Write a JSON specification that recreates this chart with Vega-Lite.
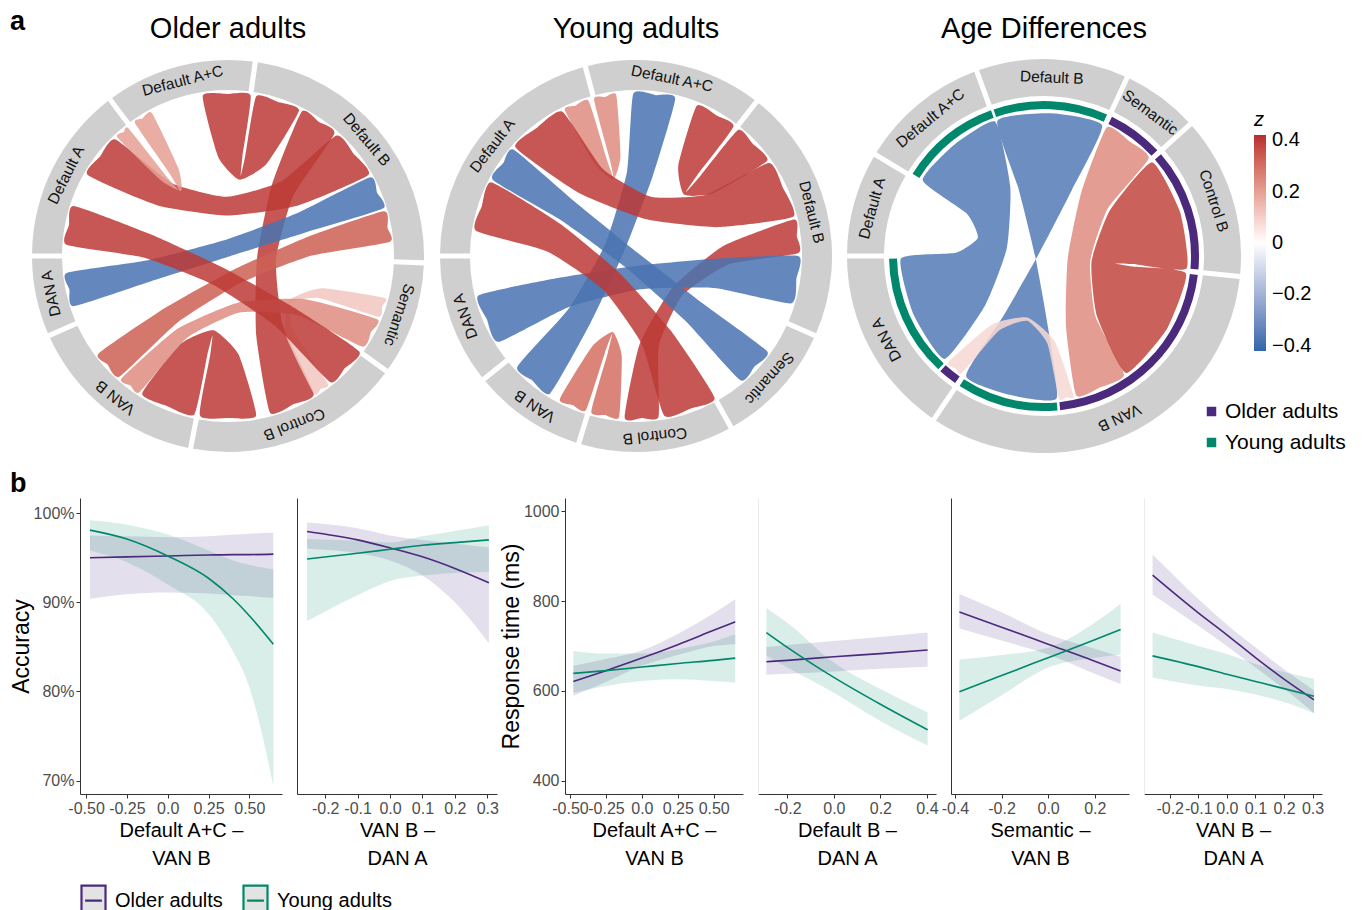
{
"$schema": "https://vega.github.io/schema/vega-lite/v6.json",
"padding": {"left": 10, "top": 8, "right": 0, "bottom": 0},
"background": "white",
"title": {"text": "a", "anchor": "start", "frame": "bounds", "offset": -21, "fontSize": 27, "fontWeight": "bold", "color": "#000000"},
"config": {
 "font": "Liberation Sans",
 "view": {"stroke": null},
 "axis": {"grid": false, "domainColor": "#333333", "tickColor": "#333333", "labelColor": "#4D4D4D", "labelFontSize": 16, "titleFontWeight": "normal", "titleColor": "#000000", "tickSize": 4, "labelPadding": 2, "labelOverlap": false, "labelFlush": false},
 "axisX": {"titleFontSize": 20, "titleLineHeight": 28, "titlePadding": 4},
 "axisY": {"titleFontSize": 23, "titlePadding": 0},
 "title": {"fontWeight": "normal", "color": "#000000"}
},
"spacing": 14,
"resolve": {"scale": {"color": "independent", "fill": "independent", "stroke": "independent"}, "legend": {"color": "independent", "fill": "independent", "stroke": "independent"}},
"vconcat": [
{
 "spacing": 8,
 "resolve": {"scale": {"color": "independent", "fill": "independent"}, "legend": {"color": "independent", "fill": "independent"}},
 "hconcat": [
 {
  "width": 348, "height": 400,
  "title": {"text": "Older adults", "fontSize": 29, "offset": 12, "dx": -26},
  "layer": [
   {"data": {"values": [{"n":"Default A+C","s":323,"e":368,"m":345.5},{"n":"Default B","s":8,"e":92,"m":50},{"n":"Semantic","s":92,"e":126,"m":109},{"n":"Control B","s":126,"e":191,"m":158.5},{"n":"VAN B","s":191,"e":246,"m":218.5},{"n":"DAN A","s":246,"e":270,"m":258},{"n":"Default A","s":270,"e":323,"m":296.5}]},
    "mark": {"type": "arc", "radius": 196, "radius2": 166, "padAngle": 0.02, "color": "#CFCFCF"},
    "encoding": {"x": {"datum": 0, "type": "quantitative", "axis": null}, "y": {"datum": 0, "type": "quantitative", "axis": null},
     "theta": {"field": "s", "type": "quantitative", "scale": {"domain": [0, 360], "range": [0, 6.283185]}, "stack": null}, "theta2": {"field": "e"}}},
   {"data": {"values": [{"n":"Default A+C","s":323,"e":368,"m":345.5},{"n":"Default B","s":8,"e":92,"m":50},{"n":"Semantic","s":92,"e":126,"m":109},{"n":"Control B","s":126,"e":191,"m":158.5},{"n":"VAN B","s":191,"e":246,"m":218.5},{"n":"DAN A","s":246,"e":270,"m":258},{"n":"Default A","s":270,"e":323,"m":296.5}]},
    "mark": {"type": "text", "radius": 181, "fontSize": 15.5, "color": "#111111"},
    "encoding": {"x": {"datum": 0, "type": "quantitative", "axis": null}, "y": {"datum": 0, "type": "quantitative", "axis": null},
     "theta": {"field": "m", "type": "quantitative", "scale": {"domain": [0, 360], "range": [0, 6.283185]}, "stack": null}, "angle": {"field": "m", "type": "quantitative", "scale": null}, "text": {"field": "n"}}},
   {"data": {"values": [
{"c":"O1","o":0,"x":-25.3,"y":160.0,"z":0.4},{"c":"O1","o":1,"x":0,"y":162,"z":0.4},{"c":"O1","o":2,"x":22.6,"y":160.4,"z":0.4},{"c":"O1","o":3,"x":14.5,"y":100.2,"z":0.4},{"c":"O1","o":4,"x":12.7,"y":80.0,"z":0.4},{"c":"O1","o":5,"x":17.2,"y":99.7,"z":0.4},{"c":"O1","o":6,"x":28.1,"y":159.5,"z":0.4},{"c":"O1","o":7,"x":50.1,"y":154.1,"z":0.4},{"c":"O1","o":8,"x":71.0,"y":145.6,"z":0.4},{"c":"O1","o":9,"x":38.4,"y":91.9,"z":0.4},{"c":"O1","o":10,"x":11.4,"y":76.4,"z":0.4},{"c":"O1","o":11,"x":-9.8,"y":99.1,"z":0.4},
{"c":"O2","o":0,"x":73.6,"y":144.3,"z":0.4},{"c":"O2","o":1,"x":90.6,"y":134.3,"z":0.4},{"c":"O2","o":2,"x":106.3,"y":122.3,"z":0.4},{"c":"O2","o":3,"x":65.2,"y":60.2,"z":0.4},{"c":"O2","o":4,"x":48.0,"y":-3.8,"z":0.4},{"c":"O2","o":5,"x":54.9,"y":-69.6,"z":0.4},{"c":"O2","o":6,"x":85.8,"y":-137.4,"z":0.4},{"c":"O2","o":7,"x":65.9,"y":-148.0,"z":0.4},{"c":"O2","o":8,"x":41.9,"y":-156.5,"z":0.4},{"c":"O2","o":9,"x":28.2,"y":-79.0,"z":0.4},{"c":"O2","o":10,"x":28.9,"y":-3.1,"z":0.4},{"c":"O2","o":11,"x":44.0,"y":71.4,"z":0.4},
{"c":"O3","o":0,"x":108.4,"y":120.4,"z":0.4},{"c":"O3","o":1,"x":125.9,"y":101.9,"z":0.4},{"c":"O3","o":2,"x":140.3,"y":81.0,"z":0.4},{"c":"O3","o":3,"x":70.2,"y":50.6,"z":0.4},{"c":"O3","o":4,"x":0,"y":40.5,"z":0.4},{"c":"O3","o":5,"x":-70.2,"y":50.6,"z":0.4},{"c":"O3","o":6,"x":-140.3,"y":81.0,"z":0.4},{"c":"O3","o":7,"x":-127.7,"y":99.7,"z":0.4},{"c":"O3","o":8,"x":-112.5,"y":116.5,"z":0.4},{"c":"O3","o":9,"x":-56.5,"y":73.1,"z":0.4},{"c":"O3","o":10,"x":-1.0,"y":59.2,"z":0.4},{"c":"O3","o":11,"x":54.0,"y":75.0,"z":0.4},
{"c":"O4","o":0,"x":141.7,"y":78.5,"z":-0.38},{"c":"O4","o":1,"x":149.1,"y":63.3,"z":-0.38},{"c":"O4","o":2,"x":154.9,"y":47.4,"z":-0.38},{"c":"O4","o":3,"x":77.5,"y":23.5,"z":-0.38},{"c":"O4","o":4,"x":0.2,"y":-0.7,"z":-0.38},{"c":"O4","o":5,"x":-77.0,"y":-25.2,"z":-0.38},{"c":"O4","o":6,"x":-154.1,"y":-50.1,"z":-0.38},{"c":"O4","o":7,"x":-158.5,"y":-33.7,"z":-0.38},{"c":"O4","o":8,"x":-161.1,"y":-16.9,"z":-0.38},{"c":"O4","o":9,"x":-81.8,"y":-4.6,"z":-0.38},{"c":"O4","o":10,"x":-4.9,"y":15.4,"z":-0.38},{"c":"O4","o":11,"x":69.6,"y":43.1,"z":-0.38},
{"c":"O5","o":0,"x":155.7,"y":44.7,"z":0.33},{"c":"O5","o":1,"x":159.5,"y":28.1,"z":0.33},{"c":"O5","o":2,"x":161.4,"y":14.1,"z":0.33},{"c":"O5","o":3,"x":84.0,"y":0.4,"z":0.33},{"c":"O5","o":4,"x":13.3,"y":-26.6,"z":0.33},{"c":"O5","o":5,"x":-50.9,"y":-66.9,"z":0.33},{"c":"O5","o":6,"x":-108.4,"y":-120.4,"z":0.33},{"c":"O5","o":7,"x":-120.4,"y":-108.4,"z":0.33},{"c":"O5","o":8,"x":-129.4,"y":-97.5,"z":0.33},{"c":"O5","o":9,"x":-63.1,"y":-52.1,"z":0.33},{"c":"O5","o":10,"x":6.6,"y":-13.2,"z":0.33},{"c":"O5","o":11,"x":79.5,"y":19.1,"z":0.33},
{"c":"O6","o":0,"x":156.5,"y":-41.9,"z":0.12},{"c":"O6","o":1,"x":154.1,"y":-50.1,"z":0.12},{"c":"O6","o":2,"x":150.2,"y":-60.7,"z":0.12},{"c":"O6","o":3,"x":90.7,"y":-42.1,"z":0.12},{"c":"O6","o":4,"x":62.5,"y":-47.1,"z":0.12},{"c":"O6","o":5,"x":65.5,"y":-75.6,"z":0.12},{"c":"O6","o":6,"x":99.7,"y":-127.7,"z":0.12},{"c":"O6","o":7,"x":92.9,"y":-132.7,"z":0.12},{"c":"O6","o":8,"x":85.8,"y":-137.4,"z":0.12},{"c":"O6","o":9,"x":58.0,"y":-79.9,"z":0.12},{"c":"O6","o":10,"x":60.6,"y":-44.8,"z":0.12},{"c":"O6","o":11,"x":93.4,"y":-32.2,"z":0.12},
{"c":"O7","o":0,"x":149.1,"y":-63.3,"z":0.24},{"c":"O7","o":1,"x":143.0,"y":-76.1,"z":0.24},{"c":"O7","o":2,"x":134.3,"y":-90.6,"z":0.24},{"c":"O7","o":3,"x":70.0,"y":-59.5,"z":0.24},{"c":"O7","o":4,"x":11.5,"y":-56.6,"z":0.24},{"c":"O7","o":5,"x":-41.2,"y":-82.1,"z":0.24},{"c":"O7","o":6,"x":-88.2,"y":-135.9,"z":0.24},{"c":"O7","o":7,"x":-97.5,"y":-129.4,"z":0.24},{"c":"O7","o":8,"x":-106.3,"y":-122.3,"z":0.24},{"c":"O7","o":9,"x":-50.5,"y":-72.8,"z":0.24},{"c":"O7","o":10,"x":10.7,"y":-46.4,"z":0.24},{"c":"O7","o":11,"x":77.2,"y":-43.3,"z":0.24},
{"c":"O8","o":0,"x":131.1,"y":-95.2,"z":0.4},{"c":"O8","o":1,"x":116.5,"y":-112.5,"z":0.4},{"c":"O8","o":2,"x":102.0,"y":-125.9,"z":0.4},{"c":"O8","o":3,"x":47.3,"y":-70.1,"z":0.4},{"c":"O8","o":4,"x":-14.9,"y":-28.7,"z":0.4},{"c":"O8","o":5,"x":-84.5,"y":-1.5,"z":0.4},{"c":"O8","o":6,"x":-161.6,"y":11.3,"z":0.4},{"c":"O8","o":7,"x":-159.0,"y":30.9,"z":0.4},{"c":"O8","o":8,"x":-154.1,"y":50.1,"z":0.4},{"c":"O8","o":9,"x":-78.5,"y":22.2,"z":0.4},{"c":"O8","o":10,"x":-5.8,"y":-11.3,"z":0.4},{"c":"O8","o":11,"x":64.1,"y":-50.4,"z":0.4},
{"c":"O9","o":0,"x":28.1,"y":-159.5,"z":0.4},{"c":"O9","o":1,"x":0,"y":-162,"z":0.4},{"c":"O9","o":2,"x":-28.1,"y":-159.5,"z":0.4},{"c":"O9","o":3,"x":-17.9,"y":-99.6,"z":0.4},{"c":"O9","o":4,"x":-15.5,"y":-79.5,"z":0.4},{"c":"O9","o":5,"x":-20.7,"y":-99.1,"z":0.4},{"c":"O9","o":6,"x":-33.7,"y":-158.5,"z":0.4},{"c":"O9","o":7,"x":-60.7,"y":-150.2,"z":0.4},{"c":"O9","o":8,"x":-85.8,"y":-137.4,"z":0.4},{"c":"O9","o":9,"x":-46.5,"y":-87.3,"z":0.4},{"c":"O9","o":10,"x":-14.4,"y":-74.2,"z":0.4},{"c":"O9","o":11,"x":10.5,"y":-98.3,"z":0.4},
{"c":"O10","o":0,"x":-110.5,"y":118.5,"z":0.2},{"c":"O10","o":1,"x":-104.1,"y":124.1,"z":0.2},{"c":"O10","o":2,"x":-99.7,"y":127.7,"z":0.2},{"c":"O10","o":3,"x":-61.9,"y":80.1,"z":0.2},{"c":"O10","o":4,"x":-48.2,"y":65.1,"z":0.2},{"c":"O10","o":5,"x":-58.5,"y":82.6,"z":0.2},{"c":"O10","o":6,"x":-92.9,"y":132.7,"z":0.2},{"c":"O10","o":7,"x":-85.8,"y":137.4,"z":0.2},{"c":"O10","o":8,"x":-76.1,"y":143.0,"z":0.2},{"c":"O10","o":9,"x":-49.7,"y":87.9,"z":0.2},{"c":"O10","o":10,"x":-46.7,"y":65.4,"z":0.2},{"c":"O10","o":11,"x":-66.9,"y":75.6,"z":0.2}
    ]},
    "mark": {"type": "line", "interpolate": "cardinal-closed", "tension": 0.5, "strokeWidth": 0, "fillOpacity": 0.85},
    "encoding": {
     "x": {"field": "x", "type": "quantitative", "scale": {"domain": [-148, 200], "nice": false, "zero": false}, "axis": null},
     "y": {"field": "y", "type": "quantitative", "scale": {"domain": [-200, 200], "nice": false, "zero": false}, "axis": null},
     "detail": {"field": "c"},
     "order": {"field": "o", "type": "quantitative"},
     "fill": {"field": "z", "type": "quantitative", "scale": {"domain": [-0.42, 0, 0.42], "range": ["#3066AA", "#FFFFFF", "#B72D2D"], "interpolate": "lab"}, "legend": null}
    }}
  ]
 },
 {
  "width": 400, "height": 400,
  "title": {"text": "Young adults", "fontSize": 29, "offset": 12},
  "layer": [
   {"data": {"values": [{"n":"Default A+C","s":345,"e":398,"m":11.5},{"n":"Default B","s":38,"e":114,"m":76},{"n":"Semantic","s":114,"e":151,"m":132.5},{"n":"Control B","s":151,"e":197,"m":174},{"n":"VAN B","s":197,"e":231,"m":214},{"n":"DAN A","s":231,"e":270,"m":250.5},{"n":"Default A","s":270,"e":345,"m":307.5}]},
    "mark": {"type": "arc", "radius": 196, "radius2": 166, "padAngle": 0.02, "color": "#CFCFCF"},
    "encoding": {"theta": {"field": "s", "type": "quantitative", "scale": {"domain": [0, 360], "range": [0, 6.283185]}, "stack": null}, "theta2": {"field": "e"}}},
   {"data": {"values": [{"n":"Default A+C","s":345,"e":398,"m":11.5},{"n":"Default B","s":38,"e":114,"m":76},{"n":"Semantic","s":114,"e":151,"m":132.5},{"n":"Control B","s":151,"e":197,"m":174},{"n":"VAN B","s":197,"e":231,"m":214},{"n":"DAN A","s":231,"e":270,"m":250.5},{"n":"Default A","s":270,"e":345,"m":307.5}]},
    "mark": {"type": "text", "radius": 181, "fontSize": 15.5, "color": "#111111"},
    "encoding": {"theta": {"field": "m", "type": "quantitative", "scale": {"domain": [0, 360], "range": [0, 6.283185]}, "stack": null}, "angle": {"field": "m", "type": "quantitative", "scale": null}, "text": {"field": "n"}}},
   {"data": {"values": [
{"c":"Y1","o":0,"x":-71.0,"y":145.6,"z":0.24},{"c":"Y1","o":1,"x":-60.7,"y":150.2,"z":0.24},{"c":"Y1","o":2,"x":-47.4,"y":154.9,"z":0.24},{"c":"Y1","o":3,"x":-29.3,"y":96.9,"z":0.24},{"c":"Y1","o":4,"x":-22.3,"y":77.9,"z":0.24},{"c":"Y1","o":5,"x":-26.5,"y":97.7,"z":0.24},{"c":"Y1","o":6,"x":-41.9,"y":156.5,"z":0.24},{"c":"Y1","o":7,"x":-30.9,"y":159.0,"z":0.24},{"c":"Y1","o":8,"x":-19.7,"y":160.8,"z":0.24},{"c":"Y1","o":9,"x":-15.5,"y":99.6,"z":0.24},{"c":"Y1","o":10,"x":-22.7,"y":76.6,"z":0.24},{"c":"Y1","o":11,"x":-41.2,"y":92.0,"z":0.24},
{"c":"Y2","o":0,"x":-2.8,"y":162.0,"z":-0.38},{"c":"Y2","o":1,"x":19.7,"y":160.8,"z":-0.38},{"c":"Y2","o":2,"x":39.2,"y":157.2,"z":-0.38},{"c":"Y2","o":3,"x":16.7,"y":79.8,"z":-0.38},{"c":"Y2","o":4,"x":-11.7,"y":5.0,"z":-0.38},{"c":"Y2","o":5,"x":-45.8,"y":-67.5,"z":-0.38},{"c":"Y2","o":6,"x":-85.8,"y":-137.4,"z":-0.38},{"c":"Y2","o":7,"x":-104.1,"y":-124.1,"z":-0.38},{"c":"Y2","o":8,"x":-118.5,"y":-110.5,"z":-0.38},{"c":"Y2","o":9,"x":-66.8,"y":-52.0,"z":-0.38},{"c":"Y2","o":10,"x":-30.3,"y":12.9,"z":-0.38},{"c":"Y2","o":11,"x":-9.0,"y":84.2,"z":-0.38},
{"c":"Y3","o":0,"x":60.7,"y":150.2,"z":0.4},{"c":"Y3","o":1,"x":81.0,"y":140.3,"z":0.4},{"c":"Y3","o":2,"x":97.5,"y":129.4,"z":0.4},{"c":"Y3","o":3,"x":61.2,"y":80.7,"z":0.4},{"c":"Y3","o":4,"x":49.9,"y":63.8,"z":0.4},{"c":"Y3","o":5,"x":63.5,"y":78.9,"z":0.4},{"c":"Y3","o":6,"x":102.0,"y":125.9,"z":0.4},{"c":"Y3","o":7,"x":116.5,"y":112.5,"z":0.4},{"c":"Y3","o":8,"x":131.1,"y":95.2,"z":0.4},{"c":"Y3","o":9,"x":77.5,"y":62.9,"z":0.4},{"c":"Y3","o":10,"x":48.0,"y":61.4,"z":0.4},{"c":"Y3","o":11,"x":42.3,"y":90.4,"z":0.4},
{"c":"Y4","o":0,"x":132.7,"y":92.9,"z":0.4},{"c":"Y4","o":1,"x":146.8,"y":68.5,"z":0.4},{"c":"Y4","o":2,"x":157.2,"y":39.2,"z":0.4},{"c":"Y4","o":3,"x":80.9,"y":28.8,"z":0.4},{"c":"Y4","o":4,"x":9.2,"y":36.9,"z":0.4},{"c":"Y4","o":5,"x":-57.9,"y":63.4,"z":0.4},{"c":"Y4","o":6,"x":-120.4,"y":108.4,"z":0.4},{"c":"Y4","o":7,"x":-99.7,"y":127.7,"z":0.4},{"c":"Y4","o":8,"x":-73.6,"y":144.3,"z":0.4},{"c":"Y4","o":9,"x":-33.1,"y":87.0,"z":0.4},{"c":"Y4","o":10,"x":14.8,"y":59.3,"z":0.4},{"c":"Y4","o":11,"x":70.0,"y":61.3,"z":0.4},
{"c":"Y5","o":0,"x":157.9,"y":36.5,"z":0.4},{"c":"Y5","o":1,"x":160.8,"y":19.7,"z":0.4},{"c":"Y5","o":2,"x":162.0,"y":2.8,"z":0.4},{"c":"Y5","o":3,"x":92.5,"y":-8.4,"z":0.4},{"c":"Y5","o":4,"x":46.2,"y":-39.4,"z":0.4},{"c":"Y5","o":5,"x":22.8,"y":-90.1,"z":0.4},{"c":"Y5","o":6,"x":22.6,"y":-160.4,"z":0.4},{"c":"Y5","o":7,"x":5.7,"y":-161.9,"z":0.4},{"c":"Y5","o":8,"x":-11.3,"y":-161.6,"z":0.4},{"c":"Y5","o":9,"x":3.5,"y":-88.6,"z":0.4},{"c":"Y5","o":10,"x":36.7,"y":-31.3,"z":0.4},{"c":"Y5","o":11,"x":88.1,"y":10.4,"z":0.4},
{"c":"Y6","o":0,"x":162.0,"y":0,"z":-0.38},{"c":"Y6","o":1,"x":160.4,"y":-22.6,"z":-0.38},{"c":"Y6","o":2,"x":154.9,"y":-47.4,"z":-0.38},{"c":"Y6","o":3,"x":78.5,"y":-32.0,"z":-0.38},{"c":"Y6","o":4,"x":4.4,"y":-33.3,"z":-0.38},{"c":"Y6","o":5,"x":-67.6,"y":-51.2,"z":-0.38},{"c":"Y6","o":6,"x":-137.4,"y":-85.8,"z":-0.38},{"c":"Y6","o":7,"x":-149.1,"y":-63.3,"z":-0.38},{"c":"Y6","o":8,"x":-157.2,"y":-39.2,"z":-0.38},{"c":"Y6","o":9,"x":-78.3,"y":-22.1,"z":-0.38},{"c":"Y6","o":10,"x":1.2,"y":-9.8,"z":-0.38},{"c":"Y6","o":11,"x":81.3,"y":-2.5,"z":-0.38},
{"c":"Y7","o":0,"x":131.1,"y":-95.2,"z":-0.38},{"c":"Y7","o":1,"x":118.5,"y":-110.5,"z":-0.38},{"c":"Y7","o":2,"x":104.1,"y":-124.1,"z":-0.38},{"c":"Y7","o":3,"x":49.6,"y":-65.1,"z":-0.38},{"c":"Y7","o":4,"x":-9.7,"y":-12.0,"z":-0.38},{"c":"Y7","o":5,"x":-73.9,"y":35.1,"z":-0.38},{"c":"Y7","o":6,"x":-143.0,"y":76.1,"z":-0.38},{"c":"Y7","o":7,"x":-132.7,"y":92.9,"z":-0.38},{"c":"Y7","o":8,"x":-122.3,"y":106.3,"z":-0.38},{"c":"Y7","o":9,"x":-60.6,"y":53.8,"z":-0.38},{"c":"Y7","o":10,"x":2.2,"y":2.8,"z":-0.38},{"c":"Y7","o":11,"x":66.1,"y":-46.9,"z":-0.38},
{"c":"Y8","o":0,"x":78.5,"y":-141.7,"z":0.4},{"c":"Y8","o":1,"x":55.4,"y":-152.2,"z":0.4},{"c":"Y8","o":2,"x":28.1,"y":-159.5,"z":0.4},{"c":"Y8","o":3,"x":5.8,"y":-88.1,"z":0.4},{"c":"Y8","o":4,"x":-33.0,"y":-33.6,"z":0.4},{"c":"Y8","o":5,"x":-88.2,"y":4.3,"z":0.4},{"c":"Y8","o":6,"x":-160.0,"y":25.3,"z":0.4},{"c":"Y8","o":7,"x":-154.1,"y":50.1,"z":0.4},{"c":"Y8","o":8,"x":-144.3,"y":73.6,"z":0.4},{"c":"Y8","o":9,"x":-76.3,"y":32.5,"z":0.4},{"c":"Y8","o":10,"x":-16.5,"y":-17.0,"z":0.4},{"c":"Y8","o":11,"x":35.1,"y":-75.1,"z":0.4},
{"c":"Y9","o":0,"x":-16.9,"y":-161.1,"z":0.3},{"c":"Y9","o":1,"x":-30.9,"y":-159.0,"z":0.3},{"c":"Y9","o":2,"x":-44.7,"y":-155.7,"z":0.3},{"c":"Y9","o":3,"x":-28.3,"y":-97.2,"z":0.3},{"c":"Y9","o":4,"x":-23.7,"y":-77.5,"z":0.3},{"c":"Y9","o":5,"x":-31.0,"y":-96.4,"z":0.3},{"c":"Y9","o":6,"x":-50.1,"y":-154.1,"z":0.3},{"c":"Y9","o":7,"x":-63.3,"y":-149.1,"z":0.3},{"c":"Y9","o":8,"x":-76.1,"y":-143.0,"z":0.3},{"c":"Y9","o":9,"x":-43.9,"y":-90.5,"z":0.3},{"c":"Y9","o":10,"x":-23.3,"y":-76.0,"z":0.3},{"c":"Y9","o":11,"x":-14.3,"y":-99.6,"z":0.3}
    ]},
    "mark": {"type": "line", "interpolate": "cardinal-closed", "tension": 0.5, "strokeWidth": 0, "fillOpacity": 0.85},
    "encoding": {
     "x": {"field": "x", "type": "quantitative", "scale": {"domain": [-200, 200], "nice": false, "zero": false}, "axis": null},
     "y": {"field": "y", "type": "quantitative", "scale": {"domain": [-200, 200], "nice": false, "zero": false}, "axis": null},
     "detail": {"field": "c"},
     "order": {"field": "o", "type": "quantitative"},
     "fill": {"field": "z", "type": "quantitative", "scale": {"domain": [-0.42, 0, 0.42], "range": ["#3066AA", "#FFFFFF", "#B72D2D"], "interpolate": "lab"}, "legend": null}
    }}
  ]
 },
 {
  "width": 400, "height": 400,
  "title": {"text": "Age Differences", "fontSize": 29, "offset": 12},
  "layer": [
   {"data": {"values": [{"n":"Default A","s":270,"e":301,"m":285.5},{"n":"Default A+C","s":301,"e":340,"m":320.5},{"n":"Default B","s":340,"e":385,"m":2.5},{"n":"Semantic","s":25,"e":48,"m":36.5},{"n":"Control B","s":48,"e":96,"m":72},{"n":"VAN B","s":96,"e":214,"m":155},{"n":"DAN A","s":214,"e":270,"m":242}]},
    "mark": {"type": "arc", "radius": 197, "radius2": 160, "padAngle": 0.02, "color": "#CFCFCF"},
    "encoding": {"theta": {"field": "s", "type": "quantitative", "scale": {"domain": [0, 360], "range": [0, 6.283185]}, "stack": null}, "theta2": {"field": "e"}}},
   {"data": {"values": [{"n":"Default A","s":270,"e":301,"m":285.5},{"n":"Default A+C","s":301,"e":340,"m":320.5},{"n":"Default B","s":340,"e":385,"m":2.5},{"n":"Semantic","s":25,"e":48,"m":36.5},{"n":"Control B","s":48,"e":96,"m":72},{"n":"VAN B","s":96,"e":214,"m":155},{"n":"DAN A","s":214,"e":270,"m":242}]},
    "mark": {"type": "text", "radius": 178.5, "fontSize": 15.5, "color": "#111111"},
    "encoding": {"theta": {"field": "m", "type": "quantitative", "scale": {"domain": [0, 360], "range": [0, 6.283185]}, "stack": null}, "angle": {"field": "m", "type": "quantitative", "scale": null}, "text": {"field": "n"}}},
   {"data": {"values": [{"s":302,"e":340,"g":"Young adults"},{"s":341,"e":384,"g":"Young adults"},{"s":26,"e":47,"g":"Older adults"},{"s":49,"e":95,"g":"Older adults"},{"s":97,"e":174,"g":"Older adults"},{"s":175,"e":213,"g":"Young adults"},{"s":215,"e":222,"g":"Older adults"},{"s":223,"e":269,"g":"Young adults"}]},
    "mark": {"type": "arc", "radius": 155, "radius2": 147},
    "encoding": {"theta": {"field": "s", "type": "quantitative", "scale": {"domain": [0, 360], "range": [0, 6.283185]}, "stack": null}, "theta2": {"field": "e"},
     "color": {"field": "g", "type": "nominal", "scale": {"domain": ["Older adults", "Young adults"], "range": ["#4B2A7E", "#00876C"]},
      "legend": {"orient": "none", "legendX": 357, "legendY": 345, "title": null, "symbolType": "square", "symbolSize": 90, "labelFontSize": 21, "labelColor": "#000000", "rowPadding": 9, "labelOffset": 3}}}},
   {"data": {"values": [
{"c":"D1","o":0,"x":-121.3,"y":75.8,"z":-0.36},{"c":"D1","o":1,"x":-90.0,"y":111.1,"z":-0.36},{"c":"D1","o":2,"x":-48.9,"y":134.4,"z":-0.36},{"c":"D1","o":3,"x":-33.7,"y":69.2,"z":-0.36},{"c":"D1","o":4,"x":-37.1,"y":7.9,"z":-0.36},{"c":"D1","o":5,"x":-58.9,"y":-49.5,"z":-0.36},{"c":"D1","o":6,"x":-99.3,"y":-102.9,"z":-0.36},{"c":"D1","o":7,"x":-130.6,"y":-58.2,"z":-0.36},{"c":"D1","o":8,"x":-143.0,"y":-2.5,"z":-0.36},{"c":"D1","o":9,"x":-88.0,"y":3.3,"z":-0.36},{"c":"D1","o":10,"x":-66.1,"y":18.3,"z":-0.36},{"c":"D1","o":11,"x":-77.2,"y":42.5,"z":-0.36},
{"c":"D2","o":0,"x":-46.6,"y":135.2,"z":-0.36},{"c":"D2","o":1,"x":7.5,"y":142.8,"z":-0.36},{"c":"D2","o":2,"x":58.2,"y":130.6,"z":-0.36},{"c":"D2","o":3,"x":27.9,"y":66.0,"z":-0.36},{"c":"D2","o":4,"x":-4.9,"y":2.7,"z":-0.36},{"c":"D2","o":5,"x":-40.2,"y":-59.3,"z":-0.36},{"c":"D2","o":6,"x":-77.9,"y":-119.9,"z":-0.36},{"c":"D2","o":7,"x":-34.6,"y":-138.8,"z":-0.36},{"c":"D2","o":8,"x":12.5,"y":-142.5,"z":-0.36},{"c":"D2","o":9,"x":4.1,"y":-71.7,"z":-0.36},{"c":"D2","o":10,"x":-8.5,"y":-1.8,"z":-0.36},{"c":"D2","o":11,"x":-25.4,"y":67.1,"z":-0.36},
{"c":"D3","o":0,"x":62.7,"y":128.5,"z":0.24},{"c":"D3","o":1,"x":86.1,"y":114.2,"z":0.24},{"c":"D3","o":2,"x":104.6,"y":97.5,"z":0.24},{"c":"D3","o":3,"x":63.8,"y":47.4,"z":0.24},{"c":"D3","o":4,"x":46.2,"y":-5.3,"z":0.24},{"c":"D3","o":5,"x":51.5,"y":-60.6,"z":0.24},{"c":"D3","o":6,"x":80.0,"y":-118.6,"z":0.24},{"c":"D3","o":7,"x":55.9,"y":-131.6,"z":0.24},{"c":"D3","o":8,"x":32.2,"y":-139.3,"z":0.24},{"c":"D3","o":9,"x":22.0,"y":-70.3,"z":0.24},{"c":"D3","o":10,"x":23.7,"y":-2.7,"z":0.24},{"c":"D3","o":11,"x":37.3,"y":63.6,"z":0.24},
{"c":"D4","o":0,"x":107.9,"y":93.8,"z":0.38},{"c":"D4","o":1,"x":136.0,"y":44.2,"z":0.38},{"c":"D4","o":2,"x":142.5,"y":-12.5,"z":0.38},{"c":"D4","o":3,"x":89.0,"y":-8.1,"z":0.38},{"c":"D4","o":4,"x":71.1,"y":-7.5,"z":0.38},{"c":"D4","o":5,"x":88.7,"y":-10.6,"z":0.38},{"c":"D4","o":6,"x":141.9,"y":-17.4,"z":0.38},{"c":"D4","o":7,"x":122.6,"y":-73.6,"z":0.38},{"c":"D4","o":8,"x":82.0,"y":-117.1,"z":0.38},{"c":"D4","o":9,"x":52.9,"y":-60.0,"z":0.38},{"c":"D4","o":10,"x":47.5,"y":-5.8,"z":0.38},{"c":"D4","o":11,"x":65.8,"y":45.4,"z":0.38},
{"c":"D5","o":0,"x":-82.0,"y":-117.1,"z":0.08},{"c":"D5","o":1,"x":-88.0,"y":-112.7,"z":0.08},{"c":"D5","o":2,"x":-95.7,"y":-106.3,"z":0.08},{"c":"D5","o":3,"x":-52.0,"y":-68.5,"z":0.08},{"c":"D5","o":4,"x":-16.5,"y":-61.6,"z":0.08},{"c":"D5","o":5,"x":10.7,"y":-85.3,"z":0.08},{"c":"D5","o":6,"x":29.7,"y":-139.9,"z":0.08},{"c":"D5","o":7,"x":22.4,"y":-141.2,"z":0.08},{"c":"D5","o":8,"x":14.9,"y":-142.2,"z":0.08},{"c":"D5","o":9,"x":3.3,"y":-87.3,"z":0.08},{"c":"D5","o":10,"x":-16.8,"y":-64.8,"z":0.08},{"c":"D5","o":11,"x":-45.2,"y":-74.8,"z":0.08}
    ]},
    "mark": {"type": "line", "interpolate": "cardinal-closed", "tension": 0.5, "strokeWidth": 0, "fillOpacity": 0.85},
    "encoding": {
     "x": {"field": "x", "type": "quantitative", "scale": {"domain": [-200, 200], "nice": false, "zero": false}, "axis": null},
     "y": {"field": "y", "type": "quantitative", "scale": {"domain": [-200, 200], "nice": false, "zero": false}, "axis": null},
     "detail": {"field": "c"},
     "order": {"field": "o", "type": "quantitative"},
     "fill": {"field": "z", "type": "quantitative", "scale": {"domain": [-0.42, 0, 0.42], "range": ["#3066AA", "#FFFFFF", "#B72D2D"], "interpolate": "lab"},
      "legend": {"orient": "none", "legendX": 410, "legendY": 54, "title": "z", "titleFontStyle": "italic", "titleFontSize": 20, "titleFontWeight": "normal", "titlePadding": 5, "gradientLength": 216, "gradientThickness": 12, "values": [-0.4, -0.2, 0, 0.2, 0.4], "format": "~g", "labelFontSize": 20, "labelColor": "#000000", "labelOffset": 6, "direction": "vertical", "gradientStrokeWidth": 0}}
    }}
  ]
 }
 ]
},
{
 "title": {"text": "b", "anchor": "start", "fontSize": 27, "fontWeight": "bold", "offset": 0},
 "spacing": 1,
 "resolve": {"scale": {"stroke": "independent"}, "legend": {"stroke": "independent"}},
 "hconcat": [
 {
  "spacing": 15,
  "bounds": "flush",
  "resolve": {"scale": {"stroke": "independent"}, "legend": {"stroke": "independent"}},
  "hconcat": [
  {
   "width": 202, "height": 296,
   "data": {"values": [
{"g":"Older adults","x":-0.476,"y":0.950,"lo":0.904,"hi":0.975},{"g":"Older adults","x":-0.25,"y":0.951,"lo":0.909,"hi":0.974},{"g":"Older adults","x":0,"y":0.952,"lo":0.911,"hi":0.973},{"g":"Older adults","x":0.25,"y":0.953,"lo":0.910,"hi":0.974},{"g":"Older adults","x":0.4,"y":0.9535,"lo":0.908,"hi":0.976},{"g":"Older adults","x":0.5,"y":0.9535,"lo":0.907,"hi":0.977},{"g":"Older adults","x":0.647,"y":0.954,"lo":0.905,"hi":0.978},
{"g":"Young adults","x":-0.476,"y":0.981,"lo":0.958,"hi":0.992},{"g":"Young adults","x":-0.25,"y":0.971,"lo":0.945,"hi":0.987},{"g":"Young adults","x":0,"y":0.952,"lo":0.920,"hi":0.976},{"g":"Young adults","x":0.25,"y":0.927,"lo":0.887,"hi":0.958},{"g":"Young adults","x":0.4,"y":0.904,"lo":0.845,"hi":0.947},{"g":"Young adults","x":0.5,"y":0.885,"lo":0.805,"hi":0.942},{"g":"Young adults","x":0.647,"y":0.853,"lo":0.694,"hi":0.937}
   ]},
   "encoding": {
    "x": {"field": "x", "type": "quantitative", "scale": {"domain": [-0.537, 0.70], "nice": false, "zero": false}, "axis": {"values": [-0.5, -0.25, 0, 0.25, 0.5], "labelExpr": "datum.value == 0 ? '0.0' : replace(format(datum.value, '.2f'), '−', '-')", "title": ["Default A+C –", "VAN B"]}},
    "y": {"field": "lo", "type": "quantitative", "scale": {"domain": [0.685, 1.017], "nice": false, "zero": false}, "axis": {"values": [0.7, 0.8, 0.9, 1], "format": ".0%", "title": "Accuracy"}}
   },
   "layer": [
    {"transform": [{"filter": "datum.g === 'Older adults'"}], "mark": {"type": "area", "opacity": 0.15, "interpolate": "monotone", "color": "#4B2A7E"}, "encoding": {"y2": {"field": "hi"}}},
    {"transform": [{"filter": "datum.g === 'Young adults'"}], "mark": {"type": "area", "opacity": 0.15, "interpolate": "monotone", "color": "#00876C"}, "encoding": {"y2": {"field": "hi"}}},
    {"mark": {"type": "line", "strokeWidth": 1.6, "interpolate": "monotone"},
     "encoding": {"y": {"field": "y", "type": "quantitative"},
      "stroke": {"field": "g", "type": "nominal", "scale": {"domain": ["Older adults", "Young adults"], "range": ["#4B2A7E", "#00876C"]},
       "legend": {"orient": "bottom", "direction": "horizontal", "title": null, "symbolType": "M-1,-1.25H1V1.25H-1Z M-0.7,0H0.7", "symbolSize": 576, "symbolStrokeWidth": 2, "symbolFillColor": "#E3E3E3", "labelFontSize": 20, "labelColor": "#000000", "labelOffset": 8, "columnPadding": 16, "offset": 19,
        "encode": {"symbols": {"update": {"fill": {"value": "#E3E3E3"}, "fillOpacity": {"value": 1}, "strokeWidth": {"value": 2.2}}}}}}}}
   ]
  },
  {
   "width": 200, "height": 296,
   "data": {"values": [
{"g":"Older adults","x":-0.256,"y":0.9795,"lo":0.960,"hi":0.9895},{"g":"Older adults","x":-0.1,"y":0.970,"lo":0.955,"hi":0.983},{"g":"Older adults","x":0,"y":0.961,"lo":0.947,"hi":0.975},{"g":"Older adults","x":0.1,"y":0.951,"lo":0.930,"hi":0.970},{"g":"Older adults","x":0.2,"y":0.938,"lo":0.900,"hi":0.966},{"g":"Older adults","x":0.305,"y":0.922,"lo":0.854,"hi":0.9615},
{"g":"Young adults","x":-0.256,"y":0.9485,"lo":0.879,"hi":0.971},{"g":"Young adults","x":-0.1,"y":0.955,"lo":0.908,"hi":0.969},{"g":"Young adults","x":0,"y":0.9595,"lo":0.924,"hi":0.967},{"g":"Young adults","x":0.1,"y":0.964,"lo":0.930,"hi":0.974},{"g":"Young adults","x":0.2,"y":0.967,"lo":0.933,"hi":0.980},{"g":"Young adults","x":0.305,"y":0.970,"lo":0.934,"hi":0.9865}
   ]},
   "encoding": {
    "x": {"field": "x", "type": "quantitative", "scale": {"domain": [-0.287, 0.33], "nice": false, "zero": false}, "axis": {"values": [-0.2, -0.1, 0, 0.1, 0.2, 0.3], "labelExpr": "replace(format(datum.value, '.1f'), '−', '-')", "title": ["VAN B –", "DAN A"]}},
    "y": {"field": "lo", "type": "quantitative", "scale": {"domain": [0.685, 1.017], "nice": false, "zero": false}, "axis": {"labels": false, "ticks": false, "title": null}}
   },
   "layer": [
    {"transform": [{"filter": "datum.g === 'Older adults'"}], "mark": {"type": "area", "opacity": 0.15, "interpolate": "monotone", "color": "#4B2A7E"}, "encoding": {"y2": {"field": "hi"}}},
    {"transform": [{"filter": "datum.g === 'Young adults'"}], "mark": {"type": "area", "opacity": 0.15, "interpolate": "monotone", "color": "#00876C"}, "encoding": {"y2": {"field": "hi"}}},
    {"mark": {"type": "line", "strokeWidth": 1.6, "interpolate": "monotone"},
     "encoding": {"y": {"field": "y", "type": "quantitative"},
      "stroke": {"field": "g", "type": "nominal", "scale": {"domain": ["Older adults", "Young adults"], "range": ["#4B2A7E", "#00876C"]}, "legend": null}}}
   ]
  }
  ]
 },
 {
  "spacing": 15,
  "bounds": "flush",
  "resolve": {"scale": {"stroke": "independent"}, "legend": {"stroke": "independent"}},
  "hconcat": [
  {
   "width": 178, "height": 296,
   "data": {"values": [
{"g":"Older adults","x":-0.477,"y":621,"lo":589,"hi":656},{"g":"Older adults","x":-0.25,"y":645,"lo":620,"hi":671},{"g":"Older adults","x":0,"y":673,"lo":656,"hi":690},{"g":"Older adults","x":0.25,"y":703,"lo":680,"hi":727},{"g":"Older adults","x":0.5,"y":735,"lo":700,"hi":773},{"g":"Older adults","x":0.65,"y":754,"lo":704,"hi":804},
{"g":"Young adults","x":-0.477,"y":639,"lo":596,"hi":689},{"g":"Young adults","x":-0.25,"y":645,"lo":611,"hi":683},{"g":"Young adults","x":0,"y":653,"lo":622,"hi":683},{"g":"Young adults","x":0.25,"y":661,"lo":626,"hi":693},{"g":"Young adults","x":0.5,"y":668,"lo":622,"hi":710},{"g":"Young adults","x":0.65,"y":673,"lo":618,"hi":726}
   ]},
   "encoding": {
    "x": {"field": "x", "type": "quantitative", "scale": {"domain": [-0.535, 0.704], "nice": false, "zero": false}, "axis": {"values": [-0.5, -0.25, 0, 0.25, 0.5], "labelExpr": "datum.value == 0 ? '0.0' : replace(format(datum.value, '.2f'), '−', '-')", "title": ["Default A+C –", "VAN B"]}},
    "y": {"field": "lo", "type": "quantitative", "scale": {"domain": [370, 1030], "nice": false, "zero": false}, "axis": {"values": [400, 600, 800, 1000], "format": "d", "title": "Response time (ms)"}}
   },
   "layer": [
    {"transform": [{"filter": "datum.g === 'Older adults'"}], "mark": {"type": "area", "opacity": 0.15, "interpolate": "monotone", "color": "#4B2A7E"}, "encoding": {"y2": {"field": "hi"}}},
    {"transform": [{"filter": "datum.g === 'Young adults'"}], "mark": {"type": "area", "opacity": 0.15, "interpolate": "monotone", "color": "#00876C"}, "encoding": {"y2": {"field": "hi"}}},
    {"mark": {"type": "line", "strokeWidth": 1.6, "interpolate": "monotone"},
     "encoding": {"y": {"field": "y", "type": "quantitative"},
      "stroke": {"field": "g", "type": "nominal", "scale": {"domain": ["Older adults", "Young adults"], "range": ["#4B2A7E", "#00876C"]}, "legend": null}}}
   ]
  },
  {
   "width": 178, "height": 296,
   "data": {"values": [
{"g":"Older adults","x":-0.29,"y":665,"lo":636,"hi":698},{"g":"Older adults","x":-0.2,"y":668,"lo":638,"hi":702},{"g":"Older adults","x":0,"y":676,"lo":643,"hi":711},{"g":"Older adults","x":0.2,"y":683,"lo":649,"hi":720},{"g":"Older adults","x":0.403,"y":691,"lo":654,"hi":730},
{"g":"Young adults","x":-0.29,"y":730,"lo":678,"hi":785},{"g":"Young adults","x":-0.2,"y":697,"lo":652,"hi":752},{"g":"Young adults","x":0,"y":630,"lo":596,"hi":663},{"g":"Young adults","x":0.2,"y":570,"lo":533,"hi":604},{"g":"Young adults","x":0.403,"y":513,"lo":478,"hi":552}
   ]},
   "encoding": {
    "x": {"field": "x", "type": "quantitative", "scale": {"domain": [-0.326, 0.439], "nice": false, "zero": false}, "axis": {"values": [-0.2, 0, 0.2, 0.4], "labelExpr": "replace(format(datum.value, '.1f'), '−', '-')", "title": ["Default B –", "DAN A"]}},
    "y": {"field": "lo", "type": "quantitative", "scale": {"domain": [370, 1030], "nice": false, "zero": false}, "axis": {"labels": false, "ticks": false, "title": null, "domainColor": "#EBEBEB"}}
   },
   "layer": [
    {"transform": [{"filter": "datum.g === 'Older adults'"}], "mark": {"type": "area", "opacity": 0.15, "interpolate": "monotone", "color": "#4B2A7E"}, "encoding": {"y2": {"field": "hi"}}},
    {"transform": [{"filter": "datum.g === 'Young adults'"}], "mark": {"type": "area", "opacity": 0.15, "interpolate": "monotone", "color": "#00876C"}, "encoding": {"y2": {"field": "hi"}}},
    {"mark": {"type": "line", "strokeWidth": 1.6, "interpolate": "monotone"},
     "encoding": {"y": {"field": "y", "type": "quantitative"},
      "stroke": {"field": "g", "type": "nominal", "scale": {"domain": ["Older adults", "Young adults"], "range": ["#4B2A7E", "#00876C"]}, "legend": null}}}
   ]
  },
  {
   "width": 178, "height": 296,
   "data": {"values": [
{"g":"Older adults","x":-0.381,"y":776,"lo":739,"hi":816},{"g":"Older adults","x":-0.2,"y":742,"lo":712,"hi":775},{"g":"Older adults","x":0,"y":704,"lo":681,"hi":726},{"g":"Older adults","x":0.2,"y":666,"lo":638,"hi":694},{"g":"Older adults","x":0.311,"y":644,"lo":615,"hi":676},
{"g":"Young adults","x":-0.381,"y":598,"lo":533,"hi":670},{"g":"Young adults","x":-0.2,"y":634,"lo":590,"hi":680},{"g":"Young adults","x":0,"y":674,"lo":652,"hi":696},{"g":"Young adults","x":0.2,"y":714,"lo":674,"hi":752},{"g":"Young adults","x":0.311,"y":737,"lo":681,"hi":794}
   ]},
   "encoding": {
    "x": {"field": "x", "type": "quantitative", "scale": {"domain": [-0.417, 0.347], "nice": false, "zero": false}, "axis": {"values": [-0.4, -0.2, 0, 0.2], "labelExpr": "replace(format(datum.value, '.1f'), '−', '-')", "title": ["Semantic –", "VAN B"]}},
    "y": {"field": "lo", "type": "quantitative", "scale": {"domain": [370, 1030], "nice": false, "zero": false}, "axis": {"labels": false, "ticks": false, "title": null}}
   },
   "layer": [
    {"transform": [{"filter": "datum.g === 'Older adults'"}], "mark": {"type": "area", "opacity": 0.15, "interpolate": "monotone", "color": "#4B2A7E"}, "encoding": {"y2": {"field": "hi"}}},
    {"transform": [{"filter": "datum.g === 'Young adults'"}], "mark": {"type": "area", "opacity": 0.15, "interpolate": "monotone", "color": "#00876C"}, "encoding": {"y2": {"field": "hi"}}},
    {"mark": {"type": "line", "strokeWidth": 1.6, "interpolate": "monotone"},
     "encoding": {"y": {"field": "y", "type": "quantitative"},
      "stroke": {"field": "g", "type": "nominal", "scale": {"domain": ["Older adults", "Young adults"], "range": ["#4B2A7E", "#00876C"]}, "legend": null}}}
   ]
  },
  {
   "width": 178, "height": 296,
   "data": {"values": [
{"g":"Older adults","x":-0.26,"y":858,"lo":815,"hi":904},{"g":"Older adults","x":-0.1,"y":774,"lo":745,"hi":805},{"g":"Older adults","x":0,"y":725,"lo":700,"hi":748},{"g":"Older adults","x":0.1,"y":674,"lo":652,"hi":697},{"g":"Older adults","x":0.2,"y":626,"lo":605,"hi":648},{"g":"Older adults","x":0.305,"y":580,"lo":550,"hi":601},
{"g":"Young adults","x":-0.26,"y":678,"lo":630,"hi":730},{"g":"Young adults","x":-0.1,"y":654,"lo":612,"hi":700},{"g":"Young adults","x":0,"y":637,"lo":604,"hi":682},{"g":"Young adults","x":0.1,"y":621,"lo":592,"hi":660},{"g":"Young adults","x":0.2,"y":605,"lo":575,"hi":642},{"g":"Young adults","x":0.305,"y":588,"lo":550,"hi":627}
   ]},
   "encoding": {
    "x": {"field": "x", "type": "quantitative", "scale": {"domain": [-0.29, 0.333], "nice": false, "zero": false}, "axis": {"values": [-0.2, -0.1, 0, 0.1, 0.2, 0.3], "labelExpr": "replace(format(datum.value, '.1f'), '−', '-')", "title": ["VAN B –", "DAN A"]}},
    "y": {"field": "lo", "type": "quantitative", "scale": {"domain": [370, 1030], "nice": false, "zero": false}, "axis": {"labels": false, "ticks": false, "title": null, "domainColor": "#EBEBEB"}}
   },
   "layer": [
    {"transform": [{"filter": "datum.g === 'Older adults'"}], "mark": {"type": "area", "opacity": 0.15, "interpolate": "monotone", "color": "#4B2A7E"}, "encoding": {"y2": {"field": "hi"}}},
    {"transform": [{"filter": "datum.g === 'Young adults'"}], "mark": {"type": "area", "opacity": 0.15, "interpolate": "monotone", "color": "#00876C"}, "encoding": {"y2": {"field": "hi"}}},
    {"mark": {"type": "line", "strokeWidth": 1.6, "interpolate": "monotone"},
     "encoding": {"y": {"field": "y", "type": "quantitative"},
      "stroke": {"field": "g", "type": "nominal", "scale": {"domain": ["Older adults", "Young adults"], "range": ["#4B2A7E", "#00876C"]}, "legend": null}}}
   ]
  }
  ]
 }
 ]
}
]
}
